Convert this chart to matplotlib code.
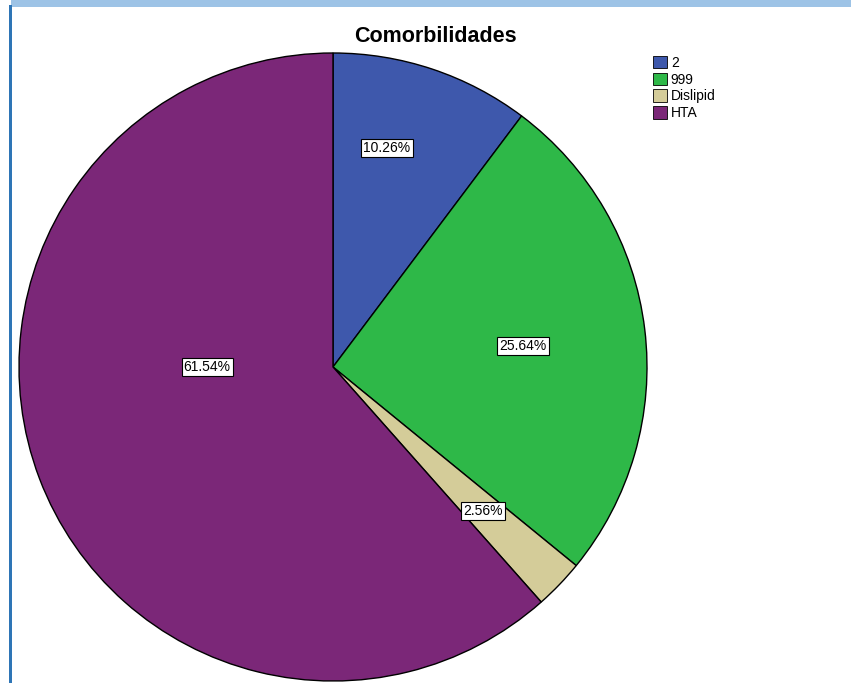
import matplotlib
matplotlib.use("Agg")
import matplotlib.pyplot as plt
from matplotlib.patches import Rectangle, Patch

plt.rcParams['font.family'] = ['Liberation Sans', 'DejaVu Sans']

title = "Comorbilidades"
categories = ["2", "999", "Dislipid", "HTA"]
counts = [4, 10, 1, 24]
colors = ["#3e58ac", "#2eb848", "#d4cc99", "#7b2778"]

W, H = 851, 683
fig = plt.figure(figsize=(W / 100, H / 100), dpi=100)
fig.patch.set_facecolor("white")

# page frame (light band on top, darker line on the left)
fig.add_artist(Rectangle((11 / W, 1 - 7 / H), 1 - 11 / W, 7 / H,
                         transform=fig.transFigure, color="#9dc3e6", lw=0))
fig.add_artist(Rectangle((9 / W, 0), 2.5 / W, 1 - 5 / H,
                         transform=fig.transFigure, color="#2e75b6", lw=0))

# pie centre (333, 367) px, radius 314 px
cx, cy, r = 333, 367, 314
ax = fig.add_axes([(cx - r) / W, (H - cy - r) / H, 2 * r / W, 2 * r / H])
wedges, _, autotexts = ax.pie(
    counts, colors=colors, startangle=90, counterclock=False, radius=1,
    wedgeprops=dict(edgecolor="black", linewidth=1),
    autopct=lambda p: f"{p:.2f}%", pctdistance=0.6,
    textprops=dict(fontsize=10, color="black"))
ax.set_xlim(-1, 1)
ax.set_ylim(-1, 1)
ax.set_aspect("equal")
ax.axis("off")

# where SPSS put the percentage labels (pie radius units)
label_pos = [(0.172, 0.697), (0.605, 0.067), (0.478, -0.459), (-0.401, 0.0)]
for t, p in zip(autotexts, label_pos):
    t.set_position(p)
    t.set_bbox(dict(facecolor="white", edgecolor="black", linewidth=0.8,
                    boxstyle="square,pad=0.15"))

fig.text(435 / W, 1 - 37 / H, title, ha="center", va="center",
         fontsize=15.5, fontweight="bold")

handles = [Patch(facecolor=c, edgecolor="black", linewidth=0.6) for c in colors]
fig.legend(handles, categories, loc="upper left", bbox_to_anchor=(650 / W, 1 - 53 / H),
           frameon=False, fontsize=10, handlelength=1.0, handleheight=1.0,
           handletextpad=0.3, labelspacing=0.2, borderaxespad=0, borderpad=0.2)

fig.savefig("out.png", dpi=100)
